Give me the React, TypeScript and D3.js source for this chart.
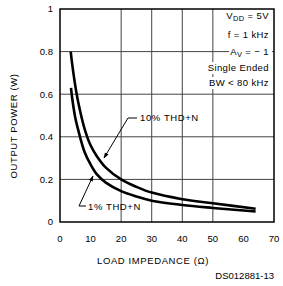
import { scaleLinear, line, curveCatmullRom } from "d3";

// load impedance (ohm) vs output power (W)
const thd10Ohms = [3.5, 4, 5, 6, 8, 10, 12, 15, 20, 25, 30, 40, 50, 64];
const thd10Watts = [0.8, 0.74, 0.64, 0.56, 0.44, 0.36, 0.31, 0.255, 0.2, 0.165, 0.138, 0.107, 0.088, 0.062];
const thd1Ohms = [3.6, 4, 5, 6, 8, 10, 12, 15, 20, 25, 30, 40, 50, 64];
const thd1Watts = [0.63, 0.58, 0.49, 0.43, 0.33, 0.27, 0.225, 0.185, 0.145, 0.12, 0.1, 0.08, 0.066, 0.049];

const xTicks = [0, 10, 20, 30, 40, 50, 60, 70];
const yTicks = [0, 0.2, 0.4, 0.6, 0.8, 1];
const xGrid = [20, 30, 40, 50];
const yGrid = [0.2, 0.4, 0.6, 0.8];

const W = 283;
const H = 286;
const x = scaleLinear([0, 70], [60, 274]);
const y = scaleLinear([0, 1], [222, 9]);
const font = "'Liberation Sans', Arial, sans-serif";

const curve = line<[number, number]>()
  .x((d) => x(d[0]))
  .y((d) => y(d[1]))
  .curve(curveCatmullRom);

const zip = (a: number[], b: number[]) => a.map((v, i) => [v, b[i]] as [number, number]);

function Note({ cy, w, children }: { cy: number; w: number; children: any }) {
  return (
    <g>
      <rect x={269 - w} y={cy - 6} width={w + 3} height={12} fill="#fff" />
      <text x={269} y={cy} dy="0.35em" textAnchor="end" fontSize={9.5} fontFamily={font} letterSpacing={0.4}>
        {children}
      </text>
    </g>
  );
}

export default function App() {
  return (
    <svg width={W} height={H} style={{ position: "absolute", left: 0, top: 0, background: "#fff" }}>
      <defs>
        <marker id="ah" viewBox="0 0 10 10" refX="9" refY="5" markerWidth="6" markerHeight="6" orient="auto">
          <path d="M0,1.5 L10,5 L0,8.5 z" fill="#000" />
        </marker>
      </defs>
      {xGrid.map((v) => (
        <line key={v} x1={x(v)} x2={x(v)} y1={y(1)} y2={y(0)} stroke="#444" strokeWidth={1} />
      ))}
      {yGrid.map((v) => (
        <line key={v} x1={x(0)} x2={x(70)} y1={y(v)} y2={y(v)} stroke="#444" strokeWidth={1} />
      ))}
      <rect x={x(0)} y={y(1)} width={x(70) - x(0)} height={y(0) - y(1)} fill="none" stroke="#000" strokeWidth={1.5} />

      <Note cy={16} w={38}>
        V<tspan fontSize={7.5} dy="2">DD</tspan>
        <tspan dy="-2"> = 5V</tspan>
      </Note>
      <Note cy={35} w={42}>f = 1 kHz</Note>
      <Note cy={52} w={40}>
        A<tspan fontSize={7.5} dy="2">V</tspan>
        <tspan dy="-2"> = − 1</tspan>
      </Note>
      <Note cy={68} w={72}>Single Ended</Note>
      <Note cy={83} w={58}>BW &lt; 80 kHz</Note>

      <path d={curve(zip(thd10Ohms, thd10Watts)) ?? ""} fill="none" stroke="#000" strokeWidth={2.6} />
      <path d={curve(zip(thd1Ohms, thd1Watts)) ?? ""} fill="none" stroke="#000" strokeWidth={2.6} />

      <polyline points="137,118 128,118 104,158" fill="none" stroke="#000" strokeWidth={1} markerEnd="url(#ah)" />
      <text x={140} y={118} dy="0.35em" fontSize={9.5} fontFamily={font} letterSpacing={0.6}>10% THD+N</text>
      <polyline points="86,206 79,206 93,176" fill="none" stroke="#000" strokeWidth={1} markerEnd="url(#ah)" />
      <text x={88} y={207} dy="0.35em" fontSize={9.5} fontFamily={font} letterSpacing={0.6}>1% THD+N</text>

      {yTicks.map((v) => (
        <text key={v} x={53} y={y(v)} dy="0.35em" textAnchor="end" fontSize={9.5} fontFamily={font}>
          {v === 0 || v === 1 ? String(v) : v.toFixed(1)}
        </text>
      ))}
      {xTicks.map((v) => (
        <text key={v} x={x(v)} y={239} dy="0.35em" textAnchor="middle" fontSize={9.5} fontFamily={font}>
          {v}
        </text>
      ))}
      <text x={153} y={261} dy="0.35em" textAnchor="middle" fontSize={9.5} fontFamily={font} letterSpacing={0.6}>
        LOAD IMPEDANCE (Ω)
      </text>
      <text x={274} y={276} dy="0.35em" textAnchor="end" fontSize={9.5} fontFamily={font}>
        DS012881-13
      </text>
      <text
        transform="translate(14,126) rotate(-90)"
        textAnchor="middle"
        dy="0.35em"
        fontSize={9.5}
        fontFamily={font}
        letterSpacing={0.6}
      >
        OUTPUT POWER (W)
      </text>
    </svg>
  );
}
